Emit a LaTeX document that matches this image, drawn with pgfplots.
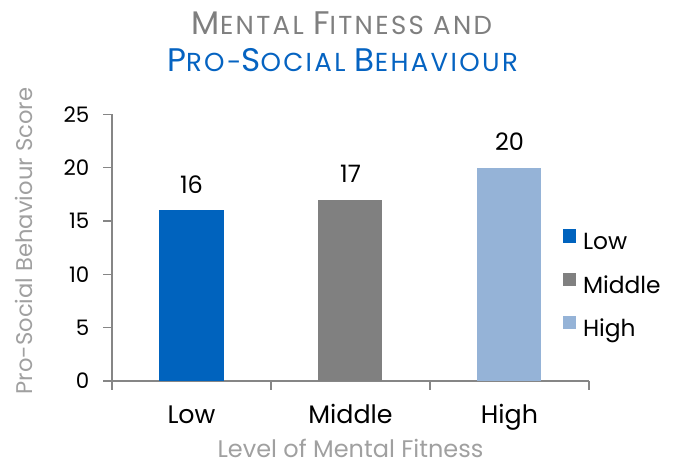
\documentclass[border=0pt]{standalone}
\usepackage{fontspec}
\setmainfont{Poppins}
\usepackage{pgfplots}
\pgfplotsset{compat=1.18}

\definecolor{lowblue}{RGB}{0,99,190}
\definecolor{midgray}{RGB}{128,128,128}
\definecolor{highblue}{RGB}{149,179,215}
\definecolor{titlegray}{RGB}{127,127,127}
\definecolor{titleblue}{RGB}{5,99,193}
\definecolor{axisgray}{RGB}{134,134,134}
\definecolor{labelgray}{RGB}{160,160,160}

% fake small caps: big first letter, smaller rest
\newfontfamily\titlefont[LetterSpace=9]{Poppins}
\newcommand\tbig[1]{{\fontsize{24.5}{28}\selectfont #1}}
\newcommand\tsmall[1]{{\fontsize{19.5}{22}\selectfont #1}}

\begin{document}
\begin{tikzpicture}
\path[use as bounding box] (0,0) rectangle (507pt,-348pt);

\node[anchor=base, text=titlegray, inner sep=0pt, font=\titlefont] at (256.5pt,-26.25pt)
  {\tbig{M}\tsmall{ENTAL }\tbig{F}\tsmall{ITNESS AND}};
\node[anchor=base, text=titleblue, inner sep=0pt, font=\titlefont] at (256.9pt,-53.8pt)
  {\tbig{P}\tsmall{RO-}\tbig{S}\tsmall{OCIAL }\tbig{B}\tsmall{EHAVIOUR}};

\begin{axis}[
  at={(84pt,-285.75pt)}, anchor=south west,
  scale only axis,
  width=357.75pt, height=200pt,
  xmin=-0.5, xmax=2.5,
  ymin=0, ymax=25,
  ybar, bar width=48pt, bar shift=0pt,
  axis x line*=bottom, axis y line*=left,
  axis line style={draw=axisgray, line width=0.9pt, -},
  tick style={draw=axisgray, line width=0.9pt},
  tick align=outside,
  major tick length=6.5pt,
  xtick={-0.5,0.5,1.5,2.5},
  x tick label as interval=true,
  xticklabels={Low,Middle,High},
  ytick={0,5,10,15,20,25},
  /pgf/number format/assume math mode=true,
  xticklabel style={font=\fontsize{19}{22}\selectfont, text=black, anchor=base, yshift=-25pt},
  yticklabel style={font=\fontsize{16}{19}\selectfont, text=black, xshift=-7pt},
  xlabel={Level of Mental Fitness},
  ylabel={Pro-Social Behaviour Score},
  xlabel style={font=\fontsize{18}{21}\selectfont, text=labelgray,
    at={(axis description cs:0.5,-0.285)}, anchor=base},
  ylabel style={font=\fontsize{17}{20}\selectfont, text=labelgray,
    at={(axis description cs:-0.1845,0.525)}, anchor=center},
  nodes near coords,
  every node near coord/.append style={font=\fontsize{18}{21}\selectfont,
    text=black, anchor=base, yshift=12.75pt},
  legend image code/.code={\fill[#1] (0pt,0pt) rectangle (10pt,10pt);},
  legend style={draw=none, fill=none, inner sep=0pt,
    at={(0.945,0.368)}, anchor=west,
    row sep=17pt, column sep=5pt,
    font=\fontsize{17.5}{20}\selectfont,
    nodes={inner sep=0pt, text height=11pt, text depth=0pt}},
  legend cell align=left,
]
\addplot[fill=lowblue, draw=none] coordinates {(0,16)};
\addlegendentry{Low}
\addplot[fill=midgray, draw=none] coordinates {(1,17)};
\addlegendentry{Middle}
\addplot[fill=highblue, draw=none] coordinates {(2,20)};
\addlegendentry{High}
\end{axis}
\end{tikzpicture}
\end{document}
